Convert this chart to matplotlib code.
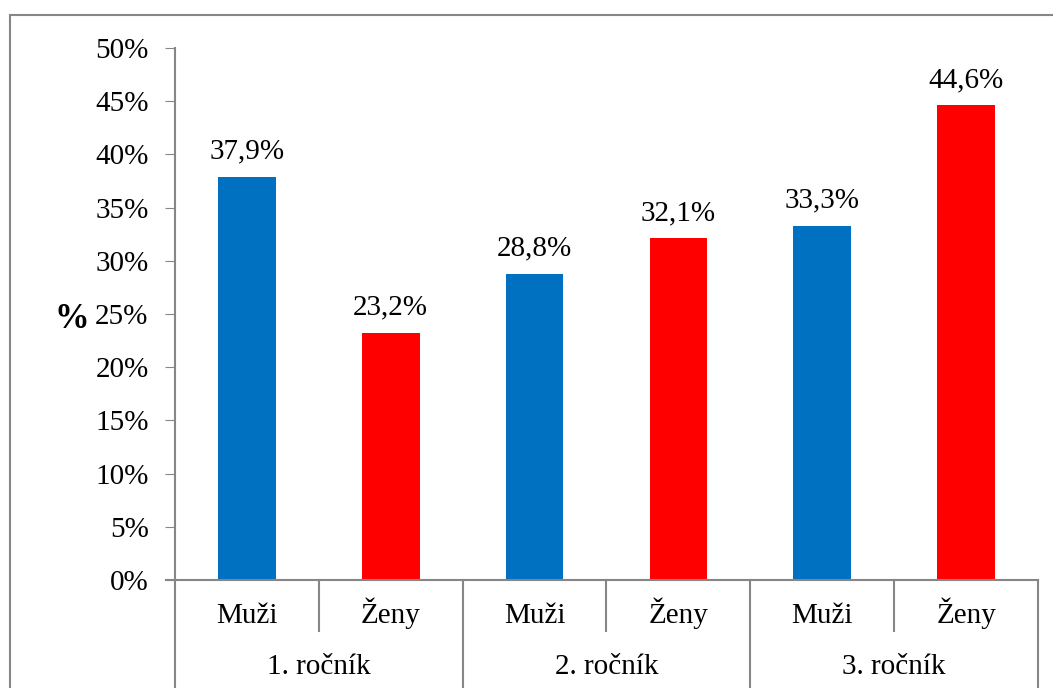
import matplotlib.pyplot as plt
from matplotlib.patches import Rectangle
from matplotlib.ticker import FuncFormatter

plt.rcParams['font.family'] = ['Liberation Serif', 'DejaVu Serif']

rocniky = ["1. ročník", "2. ročník", "3. ročník"]
pohlavi = ["Muži", "Ženy"]
muzi = [37.9, 28.8, 33.3]
zeny = [23.2, 32.1, 44.6]

modra = "#0070C0"
cervena = "#FF0000"
seda = "#868686"
vel = 21

fig = plt.figure(figsize=(10.53, 6.88), dpi=100)
ax = fig.add_axes([175 / 1053, 1 - 580 / 688, (1038 - 175) / 1053, 532 / 688])

# sloupce: v každém ročníku nejdřív muži, pak ženy
hodnoty = []
barvy = []
for m, z in zip(muzi, zeny):
    hodnoty += [m, z]
    barvy += [modra, cervena]
x = list(range(len(hodnoty)))
sloupce = ax.bar(x, hodnoty, width=0.4, color=barvy, zorder=2)

for s, v in zip(sloupce, hodnoty):
    ax.annotate(f"{v:.1f}%".replace(".", ","),
                (s.get_x() + s.get_width() / 2, v),
                xytext=(0, 9), textcoords="offset points",
                ha="center", va="bottom", fontsize=vel)

ax.set_xlim(-0.5, len(hodnoty) - 0.5)
ax.set_ylim(0, 50)
ax.set_yticks(range(0, 51, 5))
ax.yaxis.set_major_formatter(FuncFormatter(lambda v, p: f"{v:.0f}%"))
ax.tick_params(axis="y", length=7, color=seda, labelsize=vel, pad=12)
ax.set_xticks([])

for side in ["top", "right"]:
    ax.spines[side].set_visible(False)
for side in ["left", "bottom"]:
    ax.spines[side].set_color(seda)
    ax.spines[side].set_linewidth(1.5)

ax.set_ylabel("%", fontsize=25, fontweight="bold", rotation=0,
              va="center", labelpad=0)
ax.yaxis.set_label_coords(-0.12, 0.49)

# dvouúrovňová osa x
tr = ax.get_xaxis_transform()
ax.plot([-0.5 - 0.06, -0.5], [0, 0], transform=tr, color=seda, lw=1.5,
        clip_on=False)
for i in range(len(rocniky)):
    ax.plot([2 * i + 0.5] * 2, [0, -0.096], transform=tr, color=seda,
            lw=1.5, clip_on=False)
for i in range(len(rocniky) + 1):
    ax.plot([2 * i - 0.5] * 2, [0, -0.22], transform=tr, color=seda,
            lw=1.5, clip_on=False)
for i, r in enumerate(rocniky):
    for j, p in enumerate(pohlavi):
        ax.text(2 * i + j, -0.081, p, transform=tr, ha="center",
                va="baseline", fontsize=vel)
    ax.text(2 * i + 0.5, -0.176, r, transform=tr, ha="center",
            va="baseline", fontsize=vel)

# rámeček kolem grafu
fig.patches.append(Rectangle((9.5 / 1053, -0.05), 1.1, 1 - 15.5 / 688 + 0.05,
                             transform=fig.transFigure, fill=False,
                             edgecolor=seda, lw=1.5))

fig.savefig("out.png", dpi=100)
